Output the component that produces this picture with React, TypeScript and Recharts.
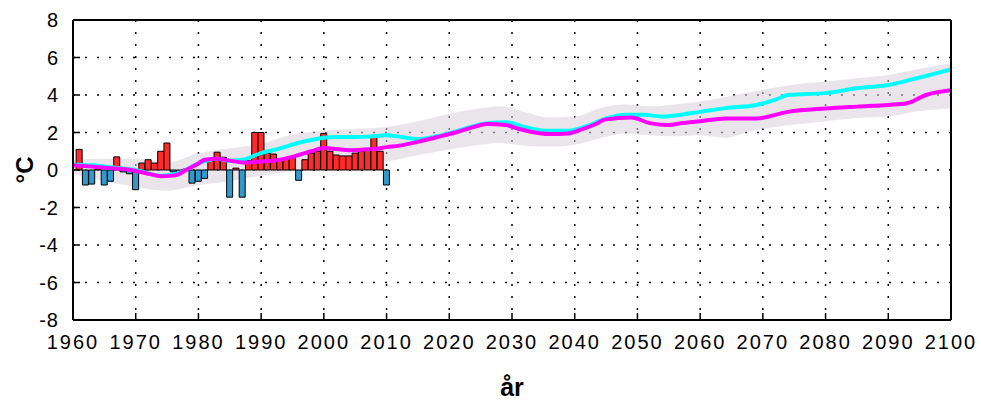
import React from 'react';
import { ComposedChart, Bar, Line, Area, XAxis, YAxis, CartesianGrid, Cell, Label } from 'recharts';

// Observed annual anomalies, 1961–2010
const obsStartYear = 1961;
const obsValues = [
  1.1, -0.8, -0.75, 0.05, -0.8, -0.6, 0.7, -0.1, -0.2, -1.05,
  0.37, 0.55, 0.37, 1.0, 1.44, -0.1, -0.15, 0.05, -0.7, -0.6,
  -0.45, 0.55, 0.95, 0.68, -1.45, 0.1, -1.45, 0.5, 2.0, 2.0,
  0.9, 0.85, 0.55, 0.6, 0.7, -0.55, 0.55, 0.9, 1.0, 1.95,
  1.0, 0.8, 0.75, 0.75, 0.9, 1.0, 1.1, 1.8, 1.0, -0.8,
];

// Magenta scenario
const magentaYears = [1960, 1963, 1966, 1968, 1970, 1972, 1974, 1976, 1977, 1978, 1980, 1981, 1983, 1985, 1987, 1990, 1993, 1996, 1998, 2000, 2002, 2004, 2006, 2008, 2010, 2012, 2015, 2018, 2021, 2024, 2026, 2029, 2031, 2033, 2036, 2039, 2041, 2043, 2045, 2049, 2052, 2055, 2057, 2060, 2064, 2069, 2074, 2080, 2085, 2090, 2093, 2096, 2100];
const magentaValues = [0.25, 0.18, 0.1, 0.05, -0.05, -0.2, -0.33, -0.3, -0.2, 0.0, 0.35, 0.55, 0.6, 0.5, 0.4, 0.45, 0.55, 0.8, 1.0, 1.17, 1.12, 1.05, 1.08, 1.12, 1.22, 1.3, 1.5, 1.75, 2.0, 2.3, 2.45, 2.4, 2.2, 2.04, 1.92, 1.95, 2.15, 2.4, 2.7, 2.8, 2.5, 2.4, 2.5, 2.6, 2.75, 2.75, 3.1, 3.28, 3.38, 3.47, 3.56, 4.0, 4.25];

// Cyan scenario
const cyanYears = [1960, 1963, 1966, 1970, 1974, 1977, 1980, 1983, 1985, 1987, 1990, 1993, 1996, 1998, 2001, 2004, 2007, 2010, 2012, 2015, 2018, 2021, 2024, 2026, 2029, 2032, 2035, 2039, 2042, 2045, 2048, 2051, 2054, 2057, 2060, 2064, 2069, 2072, 2074, 2080, 2085, 2090, 2094, 2100];
const cyanValues = [0.3, 0.25, 0.15, 0.0, -0.3, -0.15, 0.35, 0.6, 0.5, 0.55, 0.9, 1.15, 1.45, 1.6, 1.75, 1.76, 1.78, 1.85, 1.78, 1.65, 1.8, 2.05, 2.35, 2.5, 2.55, 2.3, 2.1, 2.1, 2.35, 2.75, 2.95, 2.95, 2.85, 2.95, 3.1, 3.3, 3.47, 3.75, 4.0, 4.1, 4.36, 4.53, 4.85, 5.37];

// Grey uncertainty band
const bandYears = [1960, 1965, 1970, 1975, 1980, 1985, 1990, 1995, 2000, 2005, 2010, 2015, 2020, 2025, 2028, 2032, 2036, 2040, 2044, 2048, 2052, 2056, 2060, 2064, 2068, 2072, 2076, 2080, 2085, 2090, 2095, 2100];
const bandLow = [-0.2, -0.6, -0.9, -1.1, -0.8, -0.6, -0.3, -0.05, 0.2, 0.3, 0.45, 0.8, 1.1, 1.35, 1.45, 1.3, 1.25, 1.35, 1.7, 1.95, 1.85, 1.8, 1.85, 1.72, 2.05, 2.3, 2.45, 2.6, 2.77, 2.85, 3.15, 3.3];
const bandHigh = [0.55, 0.6, 0.6, 0.4, 0.9, 1.15, 1.4, 1.9, 2.1, 2.2, 2.3, 2.6, 3.0, 3.3, 3.4, 3.1, 2.8, 2.85, 3.3, 3.5, 3.4, 3.5, 3.65, 3.9, 4.15, 4.4, 4.6, 4.72, 4.89, 5.07, 5.4, 5.7];

const xTicks = [1960, 1970, 1980, 1990, 2000, 2010, 2020, 2030, 2040, 2050, 2060, 2070, 2080, 2090, 2100];
const yTicks = [-8, -6, -4, -2, 0, 2, 4, 6, 8];

const obsData = obsValues.map((v, i) => ({ year: obsStartYear + i, temp: v }));
const magentaData = magentaYears.map((y, i) => ({ year: y, value: magentaValues[i] }));
const cyanData = cyanYears.map((y, i) => ({ year: y, value: cyanValues[i] }));
const bandData = bandYears.map((y, i) => ({ year: y, range: [bandLow[i], bandHigh[i]] }));

const FONT = 'Liberation Sans, Arial, sans-serif';

export default function App() {
  return (
    <div style={{ position: 'absolute', left: 0, top: 0, width: 981, height: 403, background: '#fff' }}>
      <ComposedChart width={981} height={403} data={obsData} margin={{ top: 19, right: 0, bottom: 0, left: 0 }}>
        <CartesianGrid stroke="#000" strokeDasharray="2 10" strokeWidth={1.5} />
        <XAxis
          dataKey="year"
          type="number"
          domain={[1960, 2100]}
          ticks={xTicks}
          interval={0}
          allowDataOverflow
          height={83}
          tickSize={-7}
          tickMargin={22}
          axisLine={{ stroke: '#000', strokeWidth: 2 }}
          tickLine={{ stroke: '#000', strokeWidth: 1.5 }}
          tick={{ fill: '#000', fontSize: 20, fontFamily: FONT, letterSpacing: 2 }}
        >
          <Label
            content={(props: any) => {
              const vb = props.viewBox;
              return (
                <text x={vb.x + vb.width / 2} y={vb.y + 76} textAnchor="middle" fontSize={25} fontWeight="bold" fontFamily={FONT} fill="#000">
                  år
                </text>
              );
            }}
          />
        </XAxis>
        <XAxis
          xAxisId="top"
          orientation="top"
          type="number"
          domain={[1960, 2100]}
          ticks={xTicks}
          interval={0}
          allowDataOverflow
          height={1}
          tickSize={-7}
          axisLine={{ stroke: '#000', strokeWidth: 2 }}
          tickLine={{ stroke: '#000', strokeWidth: 1.5 }}
          tick={false}
        />
        <YAxis
          type="number"
          domain={[-8, 8]}
          ticks={yTicks}
          interval={0}
          allowDataOverflow
          width={73}
          tickSize={-7}
          tickMargin={21}
          axisLine={{ stroke: '#000', strokeWidth: 2 }}
          tickLine={{ stroke: '#000', strokeWidth: 1.5 }}
          tick={{ fill: '#000', fontSize: 20, fontFamily: FONT, letterSpacing: 1 }}
        >
          <Label
            content={(props: any) => {
              const vb = props.viewBox;
              const cx = 33;
              const cy = vb.y + vb.height / 2;
              return (
                <text x={cx} y={cy} transform={`rotate(-90 ${cx} ${cy})`} textAnchor="middle" fontSize={24} fontWeight="bold" fontFamily={FONT} fill="#000">
                  °C
                </text>
              );
            }}
          />
        </YAxis>
        <YAxis
          yAxisId="right"
          orientation="right"
          type="number"
          domain={[-8, 8]}
          ticks={yTicks}
          interval={0}
          allowDataOverflow
          width={30}
          tickSize={-8}
          axisLine={{ stroke: '#000', strokeWidth: 2 }}
          tickLine={{ stroke: '#000', strokeWidth: 1.5 }}
          tick={false}
        />
        <Area
          data={bandData}
          dataKey="range"
          type="monotone"
          fill="#d8cfdb"
          fillOpacity={0.55}
          stroke="none"
          isAnimationActive={false}
        />
        <Bar dataKey="temp" barSize={6} stroke="#000" strokeWidth={1} isAnimationActive={false}>
          {obsData.map((d, i) => (
            <Cell key={i} fill={d.temp >= 0 ? '#ff2a2a' : '#3399cc'} />
          ))}
        </Bar>
        <Line data={cyanData} dataKey="value" type="monotone" stroke="#00ffff" strokeWidth={4} dot={false} isAnimationActive={false} />
        <Line data={magentaData} dataKey="value" type="monotone" stroke="#ff00ff" strokeWidth={4} dot={false} isAnimationActive={false} />
      </ComposedChart>
    </div>
  );
}
